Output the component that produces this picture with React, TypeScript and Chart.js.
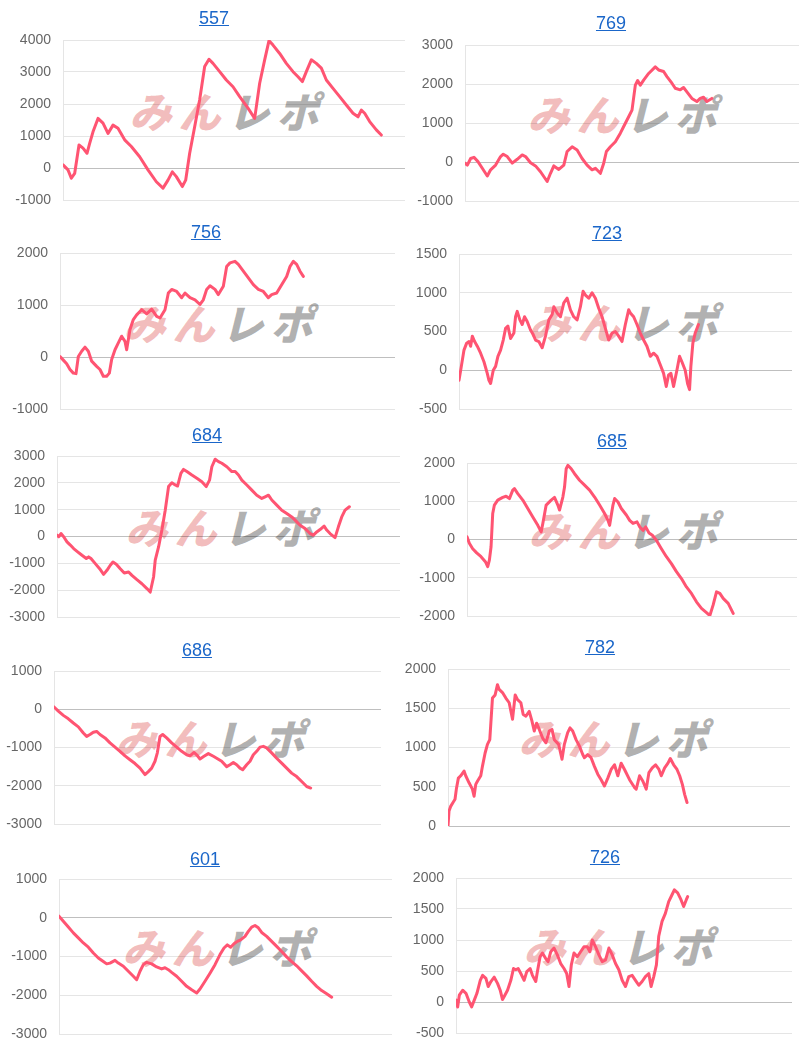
import React, { useEffect, useRef } from "react";
import { Chart, registerables } from "chart.js";

Chart.register(...registerables);

// ---- data ----
const titles = ["557", "769", "756", "723", "684", "685", "686", "782", "601", "726"];
const yMins = [-1000, -1000, -1000, -500, -3000, -2000, -3000, 0, -3000, -500];
const yMaxs = [4000, 3000, 2000, 1500, 3000, 2000, 1000, 2000, 1000, 2000];
const ySteps = [1000, 1000, 1000, 500, 1000, 1000, 1000, 500, 1000, 500];
const xMaxes = [1026, 1004, 1005, 1001, 1030, 988, 981, 1023, 999, 1011];

const s557 = [[0,100],[15,-60],[25,-320],[35,-170],[48,720],[60,620],[72,460],[80,770],[90,1130],[105,1550],[120,1400],[135,1080],[150,1340],[165,1240],[185,880],[205,670],[230,350],[255,-60],[280,-430],[300,-630],[315,-380],[328,-120],[340,-270],[358,-580],[368,-380],[380,460],[395,1290],[410,2130],[425,3170],[438,3400],[450,3270],[470,3010],[490,2750],[510,2540],[530,2230],[555,1870],[575,1550],[590,2650],[605,3380],[618,3980],[630,3840],[650,3580],[670,3270],[690,3010],[705,2850],[718,2700],[730,3010],[745,3380],[760,3270],[775,3120],[790,2750],[810,2490],[830,2230],[850,1970],[870,1710],[885,1600],[895,1810],[905,1710],[920,1450],[940,1190],[955,1030]];

const s769 = [[0,-30],[7,-80],[17,90],[27,120],[39,10],[52,-160],[67,-360],[77,-200],[92,-80],[107,140],[115,200],[127,140],[142,-30],[157,70],[172,180],[182,140],[197,-20],[212,-100],[227,-250],[247,-500],[257,-290],[267,-100],[282,-190],[297,-80],[307,270],[322,390],[337,310],[352,90],[367,-80],[382,-200],[392,-160],[407,-290],[417,-30],[425,270],[437,390],[452,520],[467,740],[477,910],[492,1160],[502,1330],[512,1970],[519,2090],[527,1970],[537,2100],[552,2270],[572,2440],[582,2360],[597,2320],[607,2190],[622,2020],[632,1890],[647,1850],[657,1910],[667,1800],[682,1630],[697,1550],[707,1630],[717,1660],[727,1550],[742,1630]];

const s756 = [[0,10],[10,-60],[20,-130],[30,-240],[40,-310],[48,-320],[55,10],[65,110],[75,190],[85,110],[95,-80],[110,-180],[120,-240],[130,-370],[140,-370],[148,-310],[155,-50],[165,140],[175,270],[185,400],[195,300],[200,140],[210,530],[220,720],[230,810],[245,910],[260,830],[275,920],[290,780],[300,750],[315,910],[325,1230],[335,1300],[350,1260],[365,1140],[375,1230],[390,1140],[405,1100],[420,1010],[430,1100],[440,1300],[450,1370],[465,1300],[475,1200],[490,1360],[500,1740],[510,1810],[525,1840],[535,1780],[550,1650],[565,1520],[580,1390],[595,1300],[610,1260],[625,1140],[635,1200],[650,1230],[665,1390],[680,1550],[690,1740],[700,1840],[710,1780],[720,1650],[730,1550]];

const s723 = [[0,-130],[7,50],[15,260],[23,350],[30,370],[35,310],[40,440],[47,370],[55,310],[65,220],[75,110],[85,-40],[90,-130],[95,-170],[103,0],[110,50],[117,180],[125,260],[133,390],[140,540],[147,570],[155,410],[165,480],[170,690],[175,760],[183,650],[190,590],[197,690],[205,630],[215,520],[223,460],[230,390],[240,370],[250,290],[260,440],[270,650],[280,720],[285,820],[295,740],[305,690],[315,870],[325,930],[335,780],[345,690],[355,650],[365,820],[373,1020],[380,970],[390,930],[400,1000],[410,930],[420,800],[430,690],[440,540],[450,390],[460,480],[470,500],[480,440],[490,370],[500,590],[510,780],[515,740],[525,690],[535,590],[545,480],[555,390],[565,310],[575,180],[585,220],[595,180],[605,70],[615,-40],[623,-210],[630,-60],[637,-40],[645,-210],[655,0],[663,180],[670,110],[680,0],[687,-170],[693,-250],[697,50],[703,350],[710,480],[720,590]];

const s684 = [[0,50],[5,-10],[12,110],[20,-10],[30,-200],[40,-320],[50,-450],[62,-570],[75,-700],[88,-820],[95,-760],[102,-820],[115,-1010],[128,-1200],[140,-1410],[150,-1260],[160,-1070],[168,-950],[178,-1030],[190,-1200],[202,-1360],[215,-1320],[225,-1450],[240,-1610],[255,-1760],[270,-1940],[280,-2070],[290,-1510],[295,-880],[305,-390],[315,240],[325,980],[335,1860],[345,2000],[355,1920],[362,1880],[372,2350],[380,2500],[390,2420],[405,2290],[420,2170],[435,2040],[448,1860],[458,2100],[465,2600],[475,2880],[485,2790],[495,2730],[510,2600],[525,2420],[535,2420],[545,2290],[555,2100],[570,1920],[585,1730],[600,1540],[615,1420],[625,1480],[635,1540],[645,1360],[660,1170],[675,980],[690,860],[705,730],[715,610],[730,420],[745,300],[760,110],[770,50],[780,170],[790,260],[802,390],[810,240],[820,110],[835,-40],[845,360],[855,730],[865,980],[878,1110]];

const s685 = [[0,70],[7,-100],[17,-240],[29,-350],[42,-450],[55,-580],[62,-710],[67,-540],[72,-190],[77,680],[82,900],[92,1030],[107,1100],[117,1130],[127,1070],[132,1180],[137,1290],[142,1330],[152,1200],[167,1030],[182,810],[197,590],[212,370],[222,200],[227,420],[237,900],[252,1030],[262,1100],[272,900],[277,770],[287,1110],[292,1370],[297,1850],[302,1940],[312,1850],[322,1720],[337,1550],[352,1420],[367,1290],[382,1110],[397,900],[412,680],[422,500],[427,370],[437,900],[442,1070],[452,980],[462,810],[477,640],[487,500],[497,420],[509,460],[517,330],[527,240],[535,330],[545,170],[555,110],[567,-20],[582,-240],[597,-450],[612,-630],[627,-840],[642,-1020],[657,-1240],[672,-1410],[687,-1630],[702,-1800],[717,-1910],[727,-1990],[737,-1710],[747,-1370],[757,-1410],[767,-1540],[782,-1670],[797,-1930]];

const s686 = [[0,60],[13,-50],[28,-160],[43,-250],[58,-360],[73,-460],[88,-620],[98,-710],[108,-660],[118,-600],[128,-580],[138,-660],[153,-750],[168,-880],[183,-990],[198,-1100],[213,-1220],[228,-1320],[243,-1420],[258,-1540],[273,-1710],[283,-1630],[293,-1540],[303,-1360],[310,-1140],[318,-710],[326,-660],[338,-750],[353,-880],[368,-990],[383,-1100],[398,-1190],[408,-1220],[420,-1130],[428,-1190],[438,-1300],[450,-1230],[463,-1160],[478,-1230],[488,-1280],[503,-1360],[518,-1500],[528,-1450],[538,-1390],[548,-1450],[558,-1540],[566,-1580],[578,-1450],[588,-1360],[598,-1190],[608,-1100],[618,-990],[628,-970],[638,-1010],[653,-1140],[668,-1280],[683,-1410],[698,-1540],[713,-1670],[728,-1760],[743,-1890],[758,-2020],[770,-2060]];

const s782 = [[0,0],[3,190],[8,250],[15,300],[21,340],[25,470],[31,610],[38,640],[48,700],[53,640],[63,550],[73,470],[78,380],[83,530],[88,570],[98,640],[103,760],[111,930],[118,1040],[125,1100],[133,1630],[141,1670],[148,1800],[153,1740],[163,1700],[173,1630],[183,1570],[193,1360],[201,1670],[208,1610],[218,1570],[225,1420],[233,1400],[243,1460],[251,1340],[258,1210],[265,1310],[273,1230],[283,1120],[293,1060],[303,1210],[311,1230],[318,1100],[331,1040],[341,850],[348,1040],[358,1190],[365,1250],[373,1210],[383,1100],[393,1020],[403,910],[408,870],[418,910],[428,870],[438,760],[448,660],[458,590],[468,510],[478,610],[488,720],[498,780],[508,640],[518,800],[528,720],[543,590],[558,490],[563,470],[573,640],[583,570],[593,470],[601,680],[611,740],[621,780],[631,720],[638,640],[648,740],[658,800],[665,860],[675,780],[685,720],[693,640],[701,530],[708,400],[715,300]];

const s601 = [[0,40],[13,-90],[28,-240],[43,-390],[58,-520],[73,-650],[88,-760],[103,-910],[118,-1040],[133,-1130],[143,-1190],[153,-1170],[168,-1100],[178,-1170],[193,-1250],[208,-1380],[223,-1510],[233,-1600],[243,-1380],[253,-1210],[263,-1150],[278,-1190],[293,-1270],[308,-1320],[318,-1290],[328,-1340],[338,-1410],[353,-1510],[368,-1640],[383,-1770],[398,-1860],[413,-1940],[423,-1840],[438,-1640],[453,-1430],[468,-1210],[483,-950],[495,-780],[505,-700],[515,-760],[525,-670],[535,-610],[545,-570],[558,-480],[568,-350],[578,-240],[588,-200],[598,-260],[608,-380],[623,-480],[638,-610],[653,-740],[668,-870],[683,-1010],[698,-1130],[713,-1240],[728,-1370],[743,-1500],[758,-1640],[773,-1770],[788,-1880],[803,-1960],[818,-2050]];

const s726 = [[0,30],[5,-80],[10,110],[20,190],[30,140],[40,0],[47,-80],[55,30],[63,140],[73,350],[80,430],[90,380],[97,250],[105,330],[115,400],[125,300],[133,190],[140,40],[147,110],[155,190],[165,350],[173,540],[180,520],[187,540],[195,460],[205,350],[213,490],[223,540],[230,430],[240,330],[245,490],[253,730],[260,790],[270,700],[277,650],[285,810],[295,870],[305,760],[315,620],[325,540],[333,460],[340,250],[347,600],[355,790],[365,730],[375,810],[385,890],[395,890],[403,810],[410,1000],[420,890],[430,760],[440,650],[450,680],[460,870],[470,760],[480,620],[490,520],[500,350],[510,250],[520,410],[530,430],[540,350],[550,270],[560,330],[570,410],[580,460],[587,250],[595,410],[603,600],[610,1060],[620,1300],[630,1430],[640,1620],[650,1730],[657,1810],[667,1760],[677,1650],[685,1540],[693,1650],[697,1700]];

const series = [s557, s769, s756, s723, s684, s685, s686, s782, s601, s726];

// ---- layout (page pixels) ----
type Box = { col: number; tcx: number; tcy: number; left: number; right: number; top: number; bottom: number; wx: number; wy: number };
const boxes: Box[] = [
  { col: 0, tcx: 214, tcy: 18, left: 63, right: 405, top: 40, bottom: 200, wx: 232, wy: 110 },
  { col: 400, tcx: 611, tcy: 23, left: 465, right: 799, top: 45, bottom: 201, wx: 630, wy: 113 },
  { col: 0, tcx: 206, tcy: 232, left: 60, right: 395, top: 253, bottom: 409, wx: 226, wy: 322 },
  { col: 400, tcx: 607, tcy: 233, left: 459, right: 792, top: 254, bottom: 409, wx: 631, wy: 321 },
  { col: 0, tcx: 207, tcy: 435, left: 57, right: 400, top: 456, bottom: 617, wx: 228, wy: 526 },
  { col: 400, tcx: 612, tcy: 441, left: 467, right: 797, top: 463, bottom: 616, wx: 631, wy: 529 },
  { col: 0, tcx: 197, tcy: 650, left: 54, right: 381, top: 671, bottom: 824, wx: 218, wy: 737 },
  { col: 400, tcx: 600, tcy: 647, left: 448, right: 790, top: 669, bottom: 826, wx: 621, wy: 737 },
  { col: 0, tcx: 205, tcy: 859, left: 59, right: 392, top: 879, bottom: 1034, wx: 225, wy: 946 },
  { col: 400, tcx: 605, tcy: 857, left: 456, right: 792, top: 878, bottom: 1033, wx: 626, wy: 945 },
];

// chart area offset inside canvas: half label line height (8) + tick padding (12)
const PAD = 20;
const LINE_COLOR = "rgb(255, 84, 114)";
const FONT = "'Liberation Sans', Arial, Helvetica, sans-serif";

function Panel({ idx }: { idx: number }) {
  const ref = useRef<HTMLCanvasElement>(null);
  const b = boxes[idx];
  const cw = b.right - b.col;
  const ch = b.bottom - b.top + PAD * 2;

  useEffect(() => {
    const chart = new Chart(ref.current as HTMLCanvasElement, {
      type: "line",
      data: {
        datasets: [
          {
            data: series[idx].map(([x, y]) => ({ x, y })),
            borderColor: LINE_COLOR,
            borderWidth: 3,
            pointRadius: 0,
            tension: 0,
            fill: false,
            borderJoinStyle: "round",
            borderCapStyle: "round",
          },
        ],
      },
      options: {
        animation: false,
        responsive: false,
        maintainAspectRatio: false,
        devicePixelRatio: 1,
        layout: { padding: 0 },
        plugins: { legend: { display: false }, tooltip: { enabled: false }, title: { display: false } },
        scales: {
          x: { type: "linear", display: false, min: 0, max: xMaxes[idx] },
          y: {
            min: yMins[idx],
            max: yMaxs[idx],
            ticks: {
              stepSize: ySteps[idx],
              padding: 12,
              color: "#666",
              font: { family: FONT, size: 14, lineHeight: "16px" },
              callback: (v: any) => String(v),
            },
            grid: {
              drawTicks: false,
              lineWidth: 1,
              color: (ctx: any) => (ctx.tick && ctx.tick.value === 0 ? "rgba(0,0,0,0.25)" : "rgba(0,0,0,0.1)"),
            },
            border: { color: "rgba(0,0,0,0.1)" },
            afterFit: (s: any) => {
              s.width = b.left - b.col;
            },
          },
        },
      } as any,
    });
    return () => chart.destroy();
  }, [idx]);

  return (
    <>
      <div
        style={{
          position: "absolute",
          left: b.wx,
          top: b.wy,
          transform: "translate(-50%, -50%) skewX(-14deg)",
          whiteSpace: "nowrap",
          fontFamily: "'Noto Sans CJK JP', sans-serif",
          fontWeight: 900,
          fontSize: 42,
          lineHeight: "42px",
          letterSpacing: 7,
          zIndex: 0,
          pointerEvents: "none",
        }}
      >
        <span style={{ color: "rgba(222, 80, 80, 0.38)" }}>みん</span>
        <span style={{ color: "rgba(110, 110, 110, 0.55)" }}>レポ</span>
      </div>
      <canvas
        ref={ref}
        width={cw}
        height={ch}
        style={{ position: "absolute", left: b.col, top: b.top - PAD, width: cw, height: ch, zIndex: 1 }}
      />
      <div
        style={{
          position: "absolute",
          left: b.tcx - 60,
          top: b.tcy - 10,
          width: 120,
          textAlign: "center",
          lineHeight: "20px",
          zIndex: 2,
        }}
      >
        <a
          href="#"
          style={{ color: "#1a66c9", textDecoration: "underline", fontFamily: FONT, fontSize: 18 }}
        >
          {titles[idx]}
        </a>
      </div>
    </>
  );
}

export default function App() {
  return (
    <div style={{ position: "absolute", left: 0, top: 0, width: 800, height: 1048, background: "#fff", overflow: "hidden" }}>
      {titles.map((_, i) => (
        <Panel key={i} idx={i} />
      ))}
    </div>
  );
}
